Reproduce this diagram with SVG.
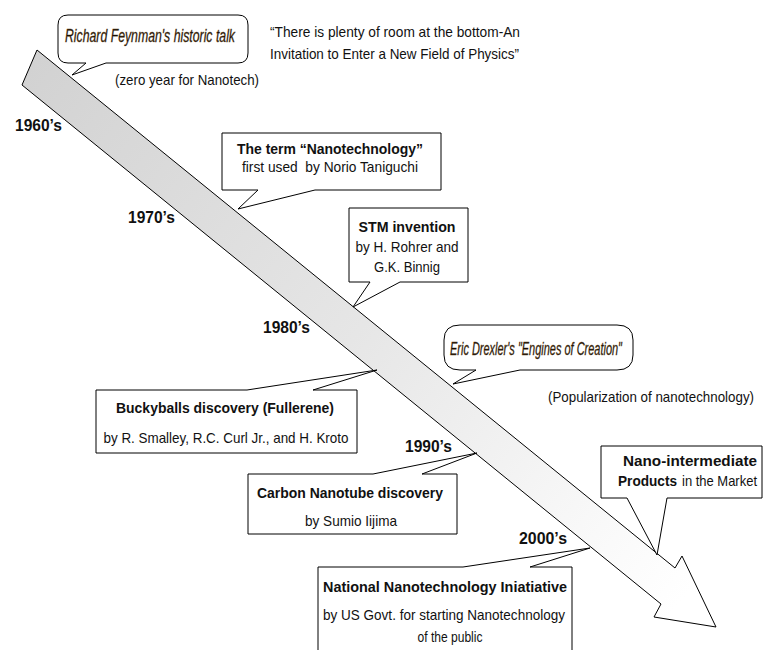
<svg xmlns="http://www.w3.org/2000/svg" width="764" height="650" viewBox="0 0 764 650">
  <style>
    .bg { fill: #ffffff; }
    .box { fill: #ffffff; stroke: #000000; stroke-width: 1; stroke-linejoin: miter; }
    .t { font-family: "Liberation Sans", Arial, sans-serif; font-size: 15px; fill: #111111; }
    .b { font-weight: bold; }
    .yr { font-family: "Liberation Sans", Arial, sans-serif; font-weight: bold; font-size: 16px; fill: #111111; }
    .wa { font-family: "Liberation Sans Narrow", "Liberation Sans", sans-serif; font-style: italic; font-size: 19px; fill: #140d05; stroke: #6b4a1e; stroke-width: 0.35px; }
  </style>
  <defs>
    <linearGradient id="shaftFill" gradientUnits="userSpaceOnUse" x1="30" y1="67" x2="690" y2="590">
      <stop offset="0" stop-color="#d2d2d2"/>
      <stop offset="0.5" stop-color="#e6e6e6"/>
      <stop offset="0.85" stop-color="#f8f8f8"/>
      <stop offset="1" stop-color="#ffffff"/>
    </linearGradient>
  </defs>

  <rect class="bg" x="0" y="0" width="764" height="650"/>

  <!-- timeline arrow -->
  <g id="timeline-arrow">
    <path d="M37,50 L675,568 L682,556 L716,627 L654,617 L661,604 L22,85 Z" fill="url(#shaftFill)" stroke="#000000" stroke-width="1" stroke-linejoin="miter"/>
  </g>

  <!-- decade labels -->
  <g id="decades">
    <text class="yr" x="15" y="131" textLength="47" lengthAdjust="spacingAndGlyphs">1960’s</text>
    <text class="yr" x="128" y="223" textLength="47" lengthAdjust="spacingAndGlyphs">1970’s</text>
    <text class="yr" x="263" y="333" textLength="47" lengthAdjust="spacingAndGlyphs">1980’s</text>
    <text class="yr" x="405" y="452" textLength="47" lengthAdjust="spacingAndGlyphs">1990’s</text>
    <text class="yr" x="519" y="544" textLength="48" lengthAdjust="spacingAndGlyphs">2000’s</text>
  </g>

  <!-- callouts pointing at the timeline -->
  <g id="connectors">
    <g id="feynman">
      <path class="box" d="M68,15 H238 Q248,15 248,25 V53 Q248,63 238,63 H106 L72,75 L86,63 H68 Q58,63 58,53 V25 Q58,15 68,15 Z"/>
      <text class="wa" x="65" y="42" textLength="170" lengthAdjust="spacingAndGlyphs">Richard Feynman's historic talk</text>
    </g>

    <g id="nanotech-term">
      <path class="box" d="M222,133 H441 V190 H315 L238,209 L258,190 H222 Z"/>
      <text class="t b" x="330" y="154" text-anchor="middle" textLength="186" lengthAdjust="spacingAndGlyphs">The term “Nanotechnology”</text>
      <text class="t" x="330" y="172" text-anchor="middle" textLength="176" lengthAdjust="spacingAndGlyphs" xml:space="preserve">first used  by Norio Taniguchi</text>
    </g>

    <g id="stm">
      <path class="box" d="M349,208 H468 V282 H400 L353,307 L370,282 H349 Z"/>
      <text class="t b" x="407" y="232" text-anchor="middle" textLength="97" lengthAdjust="spacingAndGlyphs">STM invention</text>
      <text class="t" x="407" y="252" text-anchor="middle" textLength="103" lengthAdjust="spacingAndGlyphs">by H. Rohrer and</text>
      <text class="t" x="407" y="272" text-anchor="middle" textLength="66" lengthAdjust="spacingAndGlyphs">G.K. Binnig</text>
    </g>

    <g id="drexler">
      <path class="box" d="M460,325 H617 Q633,325 633,340 V355 Q633,370 617,370 H520 L453,384 L476,370 H460 Q444,370 444,355 V340 Q444,325 460,325 Z"/>
      <text class="wa" x="450" y="355" font-size="18" textLength="172" lengthAdjust="spacingAndGlyphs">Eric Drexler's "Engines of Creation"</text>
    </g>

    <g id="buckyballs">
      <path class="box" d="M96,390 H247 L377,370 L313,390 H357 V453 H96 Z"/>
      <text class="t b" x="225" y="413" text-anchor="middle" textLength="218" lengthAdjust="spacingAndGlyphs">Buckyballs discovery (Fullerene)</text>
      <text class="t" x="226" y="443" text-anchor="middle" textLength="245" lengthAdjust="spacingAndGlyphs">by R. Smalley, R.C. Curl Jr., and H. Kroto</text>
    </g>

    <g id="nanotube">
      <path class="box" d="M248,474 H373 L477,453 L422,474 H457 V534 H248 Z"/>
      <text class="t b" x="350" y="498" text-anchor="middle" textLength="186" lengthAdjust="spacingAndGlyphs">Carbon Nanotube discovery</text>
      <text class="t" x="351" y="526" text-anchor="middle" textLength="92" lengthAdjust="spacingAndGlyphs">by Sumio Iijima</text>
    </g>

    <g id="nano-products">
      <path class="box" d="M601,446 H762 V498 H667 L657,555 L627,498 H601 Z"/>
      <text class="t b" x="757" y="466" text-anchor="end" textLength="134" lengthAdjust="spacingAndGlyphs">Nano-intermediate</text>
      <text class="t b" x="677" y="486" text-anchor="end" textLength="59" lengthAdjust="spacingAndGlyphs">Products</text>
      <text class="t" x="757" y="486" text-anchor="end" textLength="75" lengthAdjust="spacingAndGlyphs">in the Market</text>
    </g>

    <g id="nni">
      <path class="box" d="M318,567 H463 L590,548 L530,567 H572 V662 H318 Z"/>
      <text class="t b" x="445" y="592" text-anchor="middle" textLength="244" lengthAdjust="spacingAndGlyphs">National Nanotechnology Iniatiative</text>
      <text class="t" x="444" y="620" text-anchor="middle" textLength="242" lengthAdjust="spacingAndGlyphs">by US Govt. for starting Nanotechnology</text>
      <text class="t" x="450" y="642" text-anchor="middle" textLength="65" lengthAdjust="spacingAndGlyphs">of the public</text>
    </g>
  </g>

  <!-- free-standing notes -->
  <g id="notes">
    <text class="t" x="270" y="37" textLength="250" lengthAdjust="spacingAndGlyphs">“There is plenty of room at the bottom-An</text>
    <text class="t" x="270" y="59" textLength="249" lengthAdjust="spacingAndGlyphs">Invitation to Enter a New Field of Physics”</text>
    <text class="t" x="115" y="85" textLength="144" lengthAdjust="spacingAndGlyphs">(zero year for Nanotech)</text>
    <text class="t" x="754" y="402" text-anchor="end" textLength="206" lengthAdjust="spacingAndGlyphs">(Popularization of nanotechnology)</text>
  </g>
</svg>
